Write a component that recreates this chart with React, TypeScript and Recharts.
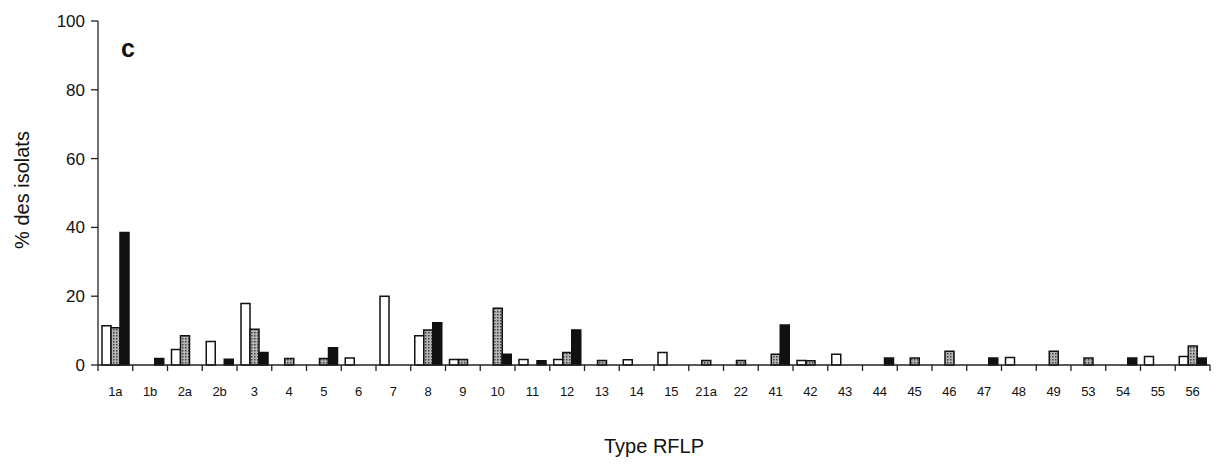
import React from 'react';
import { BarChart, Bar, XAxis, YAxis, Label } from 'recharts';

const categories = ['1a', '1b', '2a', '2b', '3', '4', '5', '6', '7', '8', '9', '10', '11', '12', '13', '14', '15', '21a', '22', '41', '42', '43', '44', '45', '46', '47', '48', '49', '53', '54', '55', '56'];
const whiteValues = [11.4, 0, 4.5, 6.8, 17.9, 0, 0, 2, 20, 8.5, 1.6, 0, 1.6, 1.6, 0, 1.5, 3.6, 0, 0, 0, 1.3, 3.1, 0, 0, 0, 0, 2.2, 0, 0, 0, 2.5, 2.5];
const grayValues = [10.8, 0, 8.5, 0, 10.4, 1.9, 1.9, 0, 0, 10.2, 1.6, 16.5, 0, 3.6, 1.3, 0, 0, 1.3, 1.3, 3.1, 1.2, 0, 0, 2, 4, 0, 0, 4, 2, 0, 0, 5.5];
const blackValues = [38.5, 1.9, 0, 1.7, 3.6, 0, 5, 0, 0, 12.3, 0, 3.1, 1.2, 10.2, 0, 0, 0, 0, 0, 11.6, 0, 0, 2, 0, 0, 2, 0, 0, 0, 2, 0, 2];
const yTicks = [0, 20, 40, 60, 80, 100];

const data = categories.map((type, i) => ({
    type,
    a: whiteValues[i],
    b: grayValues[i],
    c: blackValues[i],
}));

const font = '"Liberation Sans", Arial, sans-serif';

// label centred in the band, tick mark on the band's left edge (and right edge for the last one)
const BandTick = (props: any) => {
    const { x, y, payload, index } = props;
    const half = payload.offset || 17.4;
    const left = x - half;
    const top = y - 12;
    return (
        <g>
            <line x1={left} y1={top} x2={left} y2={top + 6} stroke="#222" strokeWidth={1.3} />
            {index === categories.length - 1 && (
                <line x1={x + half} y1={top} x2={x + half} y2={top + 6} stroke="#222" strokeWidth={1.3} />
            )}
            <text x={x} y={y + 19} textAnchor="middle" fill="#111" style={{ fontSize: 13, fontFamily: font }}>
                {payload.value}
            </text>
        </g>
    );
};

export default function App() {
    return (
        <div style={{ position: 'relative', width: 1212, height: 457, fontFamily: font }}>
            <BarChart
                width={1212}
                height={457}
                data={data}
                margin={{ top: 13, right: 10, bottom: 40, left: 0 }}
                barGap={0}
                barSize={9}
            >
                <defs>
                    <pattern id="stipple" width="3" height="3" patternUnits="userSpaceOnUse">
                        <rect width="3" height="3" fill="#b4b4b4" />
                        <rect x="0" y="0" width="1.5" height="1.5" fill="#444" />
                    </pattern>
                </defs>
                <XAxis
                    dataKey="type"
                    tickLine={false}
                    axisLine={{ stroke: '#222', strokeWidth: 1.3 }}
                    tick={<BandTick />}
                    tickMargin={6}
                    interval={0}
                    height={60}
                >
                    <Label value="Type RFLP" position="insideBottom" offset={-28} style={{ fontSize: 20, fill: '#111', fontFamily: font }} />
                </XAxis>
                <YAxis
                    domain={[0, 100]}
                    ticks={yTicks}
                    width={90}
                    tickLine={{ stroke: '#222', strokeWidth: 1.3 }}
                    tickSize={7}
                    tickMargin={6}
                    axisLine={{ stroke: '#222', strokeWidth: 1.3 }}
                    tick={{ fill: '#111', fontSize: 17, fontFamily: font }}
                >
                    <Label
                        content={({ viewBox }: any) => {
                            const cy = viewBox.y + viewBox.height / 2;
                            return (
                                <text
                                    x={14}
                                    y={cy - 3}
                                    transform={`rotate(-90, 14, ${cy - 3})`}
                                    textAnchor="middle"
                                    dominantBaseline="central"
                                    style={{ fontSize: 20, fill: '#111', fontFamily: font }}
                                >
                                    % des isolats
                                </text>
                            );
                        }}
                    />
                </YAxis>
                <Bar dataKey="a" fill="#fff" stroke="#111" strokeWidth={1.5} isAnimationActive={false} />
                <Bar dataKey="b" fill="url(#stipple)" stroke="#111" strokeWidth={1.5} isAnimationActive={false} />
                <Bar dataKey="c" fill="#111" stroke="#111" strokeWidth={1.5} isAnimationActive={false} />
            </BarChart>
            <div style={{ position: 'absolute', left: 113, top: 26, fontSize: 25, fontWeight: 'bold', color: '#111' }}>c</div>
        </div>
    );
}
